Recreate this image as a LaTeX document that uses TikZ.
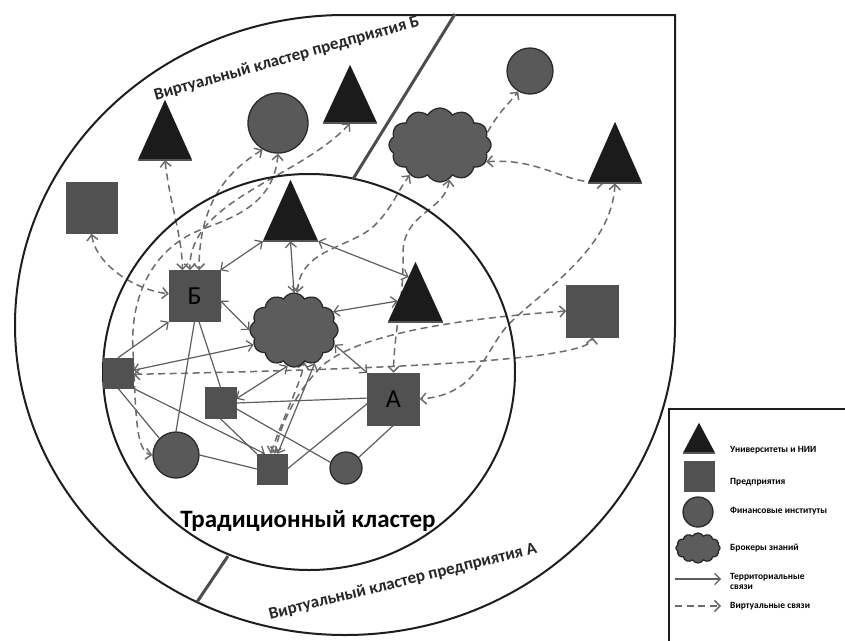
\documentclass[tikz,border=0pt]{standalone}
\usepackage{fontspec}
\setmainfont{Carlito}
\usetikzlibrary{shapes.symbols,arrows.meta,calc,backgrounds}
\definecolor{sqc}{HTML}{515151}
\definecolor{tric}{HTML}{1B1B1B}
\definecolor{tribot}{HTML}{555555}
\definecolor{circc}{HTML}{595959}
\definecolor{cloudc}{HTML}{5C5C5C}
\definecolor{edgec}{HTML}{2A2A2A}
\definecolor{linec}{HTML}{5E5E5E}
\definecolor{dashc}{HTML}{6C6C6C}
\definecolor{outc}{HTML}{1E1E1E}
\definecolor{divc}{HTML}{4D4D4D}
\definecolor{labc}{HTML}{262626}
\tikzset{
  sq/.style={rectangle, fill=sqc, draw=sqc, line width=0.5, inner sep=0, minimum size=#1},
  circ/.style={circle, fill=circc, draw=edgec, line width=1.3, inner sep=0, minimum size=#1},
  brok/.style={cloud, cloud puffs=12, cloud puff arc=120, cloud ignores aspect, fill=cloudc, draw=edgec, line width=1.3, inner sep=0},
  tribox/.style={rectangle, inner sep=0, draw=none},
  tribase/.style={draw=tribot, line width=2},
  terr/.style={draw=linec, line width=1.2},
  virt/.style={draw=dashc, line width=1.5, dash pattern=on 7pt off 4.5pt},
  outer/.style={draw=outc, line width=2},
  divider/.style={draw=divc, line width=3},
  legtxt/.style={anchor=west, inner sep=0, font=\fontsize{9.5}{10}\selectfont\bfseries, align=left},
  sqlabel/.style={font=\fontsize{26}{26}\selectfont}
}
\newcommand\mytri[5]{%
  \node[tribox, minimum width=#4, minimum height=#5] (#1) at (#2,#3) {};
  \fill[tric] (#1.north) -- (#1.south east) -- (#1.south west) -- cycle;
  \draw[tribase] (#1.south west) -- (#1.south east);
}
\begin{document}
\begin{tikzpicture}[x=1pt,y=-1pt, >={Straight Barb[length=5.5pt,width=11pt]}]
\useasboundingbox (0,0) rectangle (845,640);

% regions
\draw[outer] (345,15) -- (675,15) -- (675,325) arc[start angle=0,end angle=270,x radius=330,y radius=310] -- cycle;
\draw[outer] (309,372) ellipse[x radius=206,y radius=198];
\draw[divider] (455,14) -- (353,179);
\draw[divider] (228,556) -- (197,602);

% labels
\node[font=\fontsize{17}{17}\selectfont\bfseries, text=labc, rotate=15.7, anchor=base] (lblB) at (288,63) {Виртуальный кластер предприятия Б};
\node[font=\fontsize{17}{17}\selectfont\bfseries, text=labc, rotate=14, anchor=base] (lblA) at (404,586) {Виртуальный кластер предприятия А};
\node[font=\fontsize{25}{25}\selectfont\bfseries, anchor=base] (lblT) at (308,527) {Традиционный кластер};

% virtual cluster B
\mytri{T1}{165}{130}{54}{60}
\mytri{T2}{350}{94}{54}{58}
\node[circ=60] (C1) at (278,123) {};
\node[sq=51] (S1) at (91.5,208) {};

% virtual cluster A
\node[brok, minimum width=102, minimum height=74] (CL2) at (440,145) {};
\node[circ=46] (C2) at (530,71) {};
\mytri{T3}{615}{152.5}{54}{61}
\node[sq=52] (S2) at (592.5,311) {};

% traditional cluster
\mytri{T4}{290.5}{210.5}{55}{61}
\mytri{T5}{415.5}{292}{55}{60}
\node[sq=51, sqlabel] (SB) at (194.5,296) {Б};
\node[brok, minimum width=88, minimum height=74] (CL1) at (294,330) {};
\node[sq=52, sqlabel] (SA) at (393.5,399) {А};
\node[sq=30] (S3) at (118,373) {};
\node[sq=31] (S4) at (220.5,403) {};
\node[sq=30] (S5) at (272,469) {};
\node[circ=46] (C3) at (176,455) {};
\node[circ=32] (C4) at (346,468) {};

% legend
\draw[outer, line width=2.5] (669,650) -- (669,409) -- (850,409);
\mytri{LT}{699}{438}{32}{30}
\node[sq=30] (LS) at (699,476) {};
\node[circ=30] (LC) at (698,512) {};
\node[brok, minimum width=44, minimum height=30] (LB) at (698,548) {};
\coordinate (la1) at (675,579);
\coordinate (lb1) at (721,579);
\coordinate (la2) at (675,606);
\coordinate (lb2) at (721,606);
\node[legtxt] (lt1) at (730,450) {Университеты и НИИ};
\node[legtxt] (lt2) at (730,482) {Предприятия};
\node[legtxt] (lt3) at (730,511) {Финансовые институты};
\node[legtxt] (lt4) at (730,548) {Брокеры знаний};
\node[legtxt] (lt5) at (730,581) {Территориальные\\связи};
\node[legtxt] (lt6) at (730,606) {Виртуальные связи};

\begin{scope}[on background layer]
\fill[white] (0,0) rectangle (845,640);
% territorial links
\draw[terr,<->] (SB.north east) -- (T4.south west);
\draw[terr,<->] (T4.south) -- (CL1.north);
\draw[terr,<->] (T4.south east) -- ($(T5.north)!0.25!(T5.south west)$);
\draw[terr,<->] (CL1.25) -- ($(T5.north)!0.65!(T5.south west)$);
\draw[terr,<->] (SB.-10) -- (CL1.180);
\draw[terr,<->] (CL1.-20) -- (SA.north west);
\draw[terr,<->] (S3.10) -- (CL1.200);
\draw[terr,<->] (S4.15) -- (CL1.260);
\draw[terr,<->] (S5.70) -- (CL1.-58);
\draw[terr,->] (S3.north) -- (SB.south west);
\draw[terr,->] (S3.south east) -- (S5.115);
\draw[terr] (SB.south) -- (C3.north);
\draw[terr] (SB.-80) -- (S4.north);
\draw[terr] (S3.south) -- (C3.135);
\draw[terr] (S4.south) -- (S5.north west);
\draw[terr] (C3.east) -- (S5.west);
\draw[terr] (S5.east) -- (SA.190);
\draw[terr] (S4.east) -- (SA.178);
\draw[terr] (S4.-20) -- (C4.160);
\draw[terr] (SA.south) -- (C4.40);
% virtual links
\draw[virt,<->] (T1.south) .. controls (170,205) and (182,235) .. (SB.115);
\draw[virt,<->] (S1.south) .. controls (96,265) and (135,290) .. (SB.175);
\draw[virt,<->] (C1.240) .. controls (230,170) and (199,200) .. (SB.80);
\draw[virt,<->] (T2.south) .. controls (300,178) and (188,200) .. (SB.100);
\draw[virt,<->] (C1.south) .. controls (274,205) and (232,218) .. (200,230) .. controls (150,250) and (130,300) .. (133,350) .. controls (136,410) and (135,452) .. (C3.west);
\draw[virt,<->] (CL1.85) .. controls (300,248) and (352,248) .. (375,225) .. controls (393,207) and (398,190) .. (CL2.225);
\draw[virt,<->] (CL2.285) .. controls (445,212) and (402,212) .. (403,255) .. controls (404,300) and (394,330) .. (SA.north);
\draw[virt,->] (CL2.15) .. controls (500,110) and (508,105) .. (C2.240);
\draw[virt,<->] (CL2.-20) .. controls (540,158) and (560,182) .. (T3.250);
\draw[virt,<->] (T3.south) .. controls (612,250) and (540,292) .. (508,325) .. controls (485,350) and (478,395) .. (SA.east);
\draw[virt,<->] (S2.west) .. controls (470,318) and (360,332) .. (322,366) .. controls (296,392) and (280,425) .. (S5.80);
\draw[virt,<->] (S3.-5) .. controls (350,370) and (590,362) .. (S2.south);
\draw[virt,<->] (S5.95) .. controls (282,420) and (300,385) .. (CL1.-72);
% legend links
\draw[terr,->] (la1) -- (lb1);
\draw[virt,->] (la2) -- (lb2);
\end{scope}
\end{tikzpicture}
\end{document}
